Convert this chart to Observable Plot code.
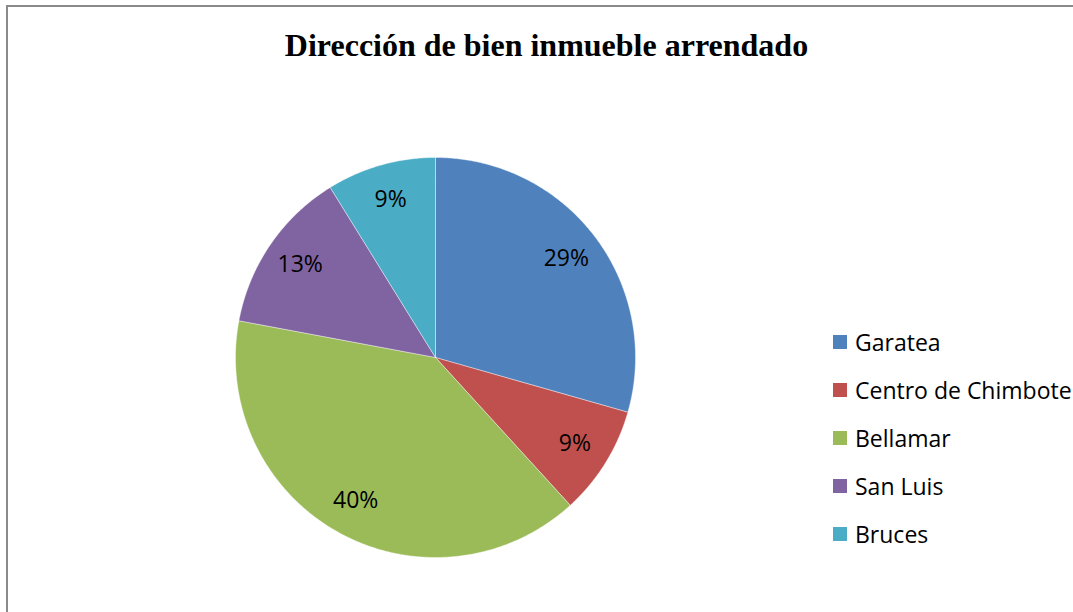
<!DOCTYPE html>
<html><head><meta charset="utf-8">
<script src="https://cdn.jsdelivr.net/npm/d3@7"></script>
<script src="https://cdn.jsdelivr.net/npm/@observablehq/plot@0.6"></script>
<style>
html,body{margin:0;padding:0;background:#fff;}
#wrap{position:relative;width:1073px;height:612px;overflow:hidden;background:#fff;}
#frame{position:absolute;left:6px;top:5px;width:2000px;height:2000px;border-left:2px solid #8a8a8a;border-top:2px solid #8a8a8a;}
#title{position:absolute;left:0;width:1093px;top:29px;line-height:32px;text-align:center;font-family:"Liberation Serif","Times New Roman",serif;font-weight:bold;font-size:32px;color:#000;}
#chart{position:absolute;left:0;top:80px;}
#legend{position:absolute;left:833px;top:318px;font-family:"Open Sans",sans-serif;font-size:23px;color:#000;}
.row{height:48px;display:flex;align-items:center;white-space:nowrap;}
.sw{width:14px;height:14px;margin-right:8px;flex:none;}
</style></head>
<body>
<div id="wrap">
 <div id="frame"></div>
 <div id="title">Dirección de bien inmueble arrendado</div>
 <div id="chart"></div>
 <div id="legend"></div>
</div>
<script>
const categories = ["Garatea", "Centro de Chimbote", "Bellamar", "San Luis", "Bruces"];
const counts = [20, 6, 27, 9, 6];
const colors = ["#4F81BD", "#C0504D", "#9BBB59", "#8064A2", "#4BACC6"];

const total = d3.sum(counts);
const fmt = d3.format(".0%");
const data = categories.map((name, i) => ({name, value: counts[i], label: fmt(counts[i] / total)}));
const arcs = d3.pie().value(d => d.value).sort(null)(data);

const polys = [];
arcs.forEach(a => {
  const n = Math.max(2, Math.ceil((a.endAngle - a.startAngle) / (Math.PI / 360)));
  polys.push({name: a.data.name, x: 0, y: 0});
  for (let k = 0; k <= n; k++) {
    const t = a.startAngle + (a.endAngle - a.startAngle) * k / n;
    polys.push({name: a.data.name, x: Math.sin(t), y: Math.cos(t)});
  }
  polys.push({name: a.data.name, x: 0, y: 0});
});
const labels = arcs.map(a => {
  const m = (a.startAngle + a.endAngle) / 2;
  return {label: a.data.label, x: 0.82 * Math.sin(m), y: 0.82 * Math.cos(m)};
});

const R = 200, cx = 435, cy = 277, W = 1073, H = 532;
const chart = Plot.plot({
  width: W, height: H, margin: 0,
  style: {fontFamily: "Open Sans", background: "transparent"},
  x: {domain: [-cx / R, (W - cx) / R], axis: null},
  y: {domain: [-(H - cy) / R, cy / R], axis: null},
  color: {domain: categories, range: colors},
  marks: [
    Plot.line(polys, {x: "x", y: "y", z: "name", fill: "name", stroke: "white", strokeWidth: 0.4, curve: "linear"}),
    Plot.text(labels, {x: "x", y: "y", text: "label", fontSize: 23, fill: "black"})
  ]
});
document.getElementById("chart").appendChild(chart);

const legend = document.getElementById("legend");
categories.forEach((c, i) => {
  const row = document.createElement("div");
  row.className = "row";
  const sw = document.createElement("span");
  sw.className = "sw";
  sw.style.background = colors[i];
  const tx = document.createElement("span");
  tx.textContent = c;
  row.appendChild(sw); row.appendChild(tx);
  legend.appendChild(row);
});
</script>
</body></html>
